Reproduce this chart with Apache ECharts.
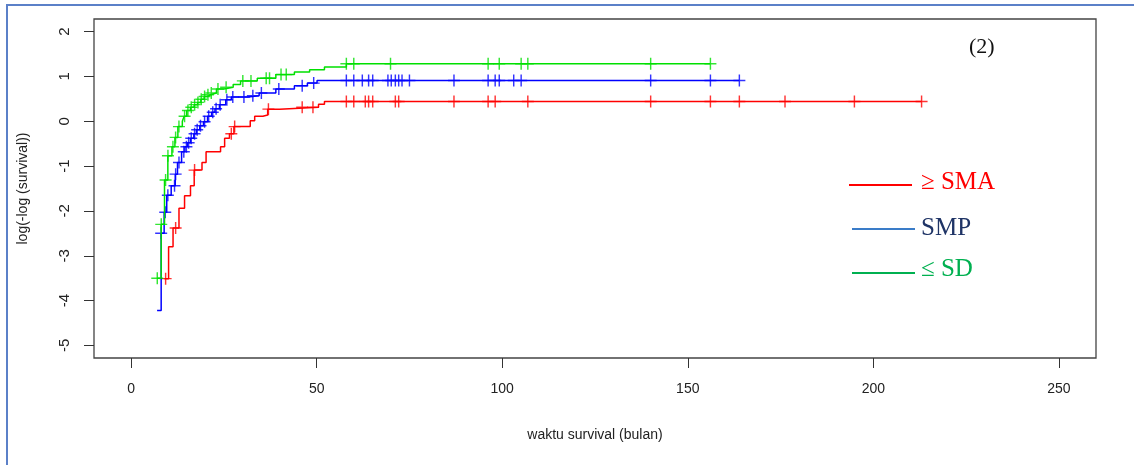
<!DOCTYPE html>
<html>
<head>
<meta charset="utf-8">
<script src="https://cdn.jsdelivr.net/npm/echarts@6.0.0/dist/echarts.min.js"></script>
<style>
  html, body { margin: 0; padding: 0; background: #fff; }
  #chart { width: 1134px; height: 465px; }
</style>
</head>
<body>
<div id="chart"></div>
<script>
// tick labels
const xTicks = [0, 50, 100, 150, 200, 250]
const yTicks = [-5, -4, -3, -2, -1, 0, 1, 2]

// step curves: [waktu, log(-log(S))] from that time onward
const smaSteps = [
  [9.0, -3.51], [10.1, -2.80], [11.3, -2.38], [12.9, -1.94], [14.4, -1.66],
  [16.0, -1.44], [17.0, -1.09], [19.1, -0.92], [20.2, -0.68], [24.1, -0.57],
  [25.2, -0.38], [26.5, -0.28], [27.7, -0.12], [32.1, 0.01], [33.3, 0.11],
  [35.5, 0.14], [36.8, 0.27], [40.0, 0.31], [50.5, 0.38], [52.1, 0.44]
]
const smpSteps = [
  [7.0, -4.22], [8.1, -2.50], [8.9, -2.03], [9.6, -1.65], [10.8, -1.44],
  [11.9, -1.18], [12.5, -0.92], [13.6, -0.68], [14.5, -0.57], [15.2, -0.48],
  [16.0, -0.38], [16.9, -0.28], [17.6, -0.19], [18.5, -0.10], [19.5, -0.01],
  [20.6, 0.11], [21.7, 0.20], [22.6, 0.28], [23.8, 0.37], [25.5, 0.48],
  [27.0, 0.54], [31.5, 0.57], [34.5, 0.63], [39.0, 0.72], [44.0, 0.79],
  [47.5, 0.85], [50.1, 0.91]
]
const sdSteps = [
  [6.9, -3.50], [8.1, -2.30], [9.0, -1.31], [9.9, -0.77], [11.0, -0.57],
  [11.8, -0.36], [12.6, -0.12], [13.8, 0.00], [14.3, 0.11], [15.0, 0.24],
  [16.0, 0.31], [17.0, 0.37], [17.9, 0.42], [18.8, 0.49], [19.7, 0.55],
  [20.5, 0.59], [21.4, 0.63], [23.0, 0.72], [25.0, 0.76], [27.5, 0.82],
  [29.5, 0.90], [34.0, 0.96], [39.0, 1.04], [44.0, 1.10], [48.1, 1.15],
  [52.1, 1.21], [58.0, 1.28]
]

// censored times (+ marks)
const smaCensor = [9.3, 12.0, 17.1, 27.0, 27.9, 37.0, 46.1, 49.0, 58.0, 60.0, 63.1, 64.0, 65.1,
  71.2, 72.1, 87.0, 96.2, 98.1, 106.9, 140.0, 156.1, 163.9, 176.2, 194.9, 213.0]
const smpCensor = [8.1, 9.2, 9.9, 11.7, 12.0, 12.9, 14.2, 14.9, 15.5, 16.2, 17.1, 17.8, 18.7,
  19.8, 20.9, 22.0, 22.9, 24.0, 25.8, 27.4, 30.4, 32.8, 35.1, 39.8, 46.1, 49.2, 58.0, 60.0,
  62.3, 64.0, 65.1, 69.2, 70.1, 71.2, 72.1, 73.0, 75.0, 87.0, 96.2, 98.1, 99.2, 103.1, 105.1,
  140.0, 156.1, 163.9]
const sdCensor = [7.05, 8.12, 9.29, 9.92, 11.27, 11.99, 12.89, 14.41, 15.31, 16.21, 17.11, 18.0,
  18.9, 19.8, 20.7, 21.6, 23.4, 25.6, 30.1, 32.3, 36.4, 37.3, 40.4, 41.8, 58.0, 60.0, 69.9,
  96.2, 99.2, 105.1, 106.9, 140.0, 156.1]

const plus = 'path://M4.4,0H5.6V4.4H10V5.6H5.6V10H4.4V5.6H0V4.4H4.4Z'

// value of step curve at time t
function valueAt (steps, t) {
  let v = steps[0][1]
  steps.forEach(s => { if (s[0] <= t) v = s[1] })
  return v
}

function curve (steps, censor) {
  const last = censor[censor.length - 1]
  return steps.concat([[last, valueAt(steps, last)]])
}

function makeSeries (name, color, steps, censor) {
  return [{
    name: name,
    type: 'line',
    step: 'end',
    showSymbol: false,
    lineStyle: { color: color, width: 1.5 },
    data: curve(steps, censor)
  }, {
    name: name,
    type: 'scatter',
    symbol: plus,
    symbolSize: 12,
    itemStyle: { color: color },
    data: censor.map(t => [t, valueAt(steps, t)])
  }]
}

const chart = echarts.init(document.getElementById('chart'))
const axisFont = { color: '#222', fontSize: 14, fontFamily: 'Liberation Sans' }

chart.setOption({
  animation: false,
  grid: {
    left: 94, top: 19, right: 38, bottom: 107,
    show: true, borderColor: '#444', borderWidth: 1.3
  },
  xAxis: {
    type: 'value',
    min: -10,
    max: 260,
    name: 'waktu survival (bulan)',
    nameLocation: 'middle',
    nameGap: 70,
    nameTextStyle: axisFont,
    axisLine: { show: false, onZero: false },
    splitLine: { show: false },
    axisTick: { show: true, length: 10, customValues: xTicks, lineStyle: { color: '#333' } },
    axisLabel: Object.assign({ customValues: xTicks, margin: 24 }, axisFont)
  },
  yAxis: {
    type: 'value',
    min: -5.28,
    max: 2.28,
    name: 'log(-log (survival))',
    nameLocation: 'middle',
    nameGap: 64,
    nameTextStyle: axisFont,
    axisLine: { show: false, onZero: false },
    splitLine: { show: false },
    axisTick: { show: true, length: 10, customValues: yTicks, lineStyle: { color: '#333' } },
    axisLabel: Object.assign({ customValues: yTicks, margin: 22, rotate: 90 }, axisFont, { fontSize: 15 })
  },
  series: [].concat(
    makeSeries('≥ SMA', '#ff0000', smaSteps, smaCensor),
    makeSeries('SMP', '#0000ff', smpSteps, smpCensor),
    makeSeries('≤ SD', '#00e000', sdSteps, sdCensor)
  ),
  graphic: [
    // frame of the picture
    { type: 'polyline', shape: { points: [[7, 465], [7, 5], [1134, 5]] }, style: { stroke: '#5b80c8', lineWidth: 2, fill: null } },
    { type: 'text', left: 969, top: 36, style: { text: '(2)', font: '22px "Liberation Serif"', fill: '#111' } },
    // legend
    { type: 'line', shape: { x1: 849, y1: 185, x2: 912, y2: 185 }, style: { stroke: '#ff0000', lineWidth: 2 } },
    { type: 'text', left: 921, top: 170, style: { text: '≥ SMA', font: '25px "Liberation Serif"', fill: '#ff0000' } },
    { type: 'line', shape: { x1: 852, y1: 229, x2: 915, y2: 229 }, style: { stroke: '#3a7cc8', lineWidth: 2 } },
    { type: 'text', left: 921, top: 216, style: { text: 'SMP', font: '25px "Liberation Serif"', fill: '#1f3466' } },
    { type: 'line', shape: { x1: 852, y1: 273, x2: 915, y2: 273 }, style: { stroke: '#00b050', lineWidth: 2 } },
    { type: 'text', left: 921, top: 257, style: { text: '≤ SD', font: '25px "Liberation Serif"', fill: '#00b050' } }
  ]
})
</script>
</body>
</html>
